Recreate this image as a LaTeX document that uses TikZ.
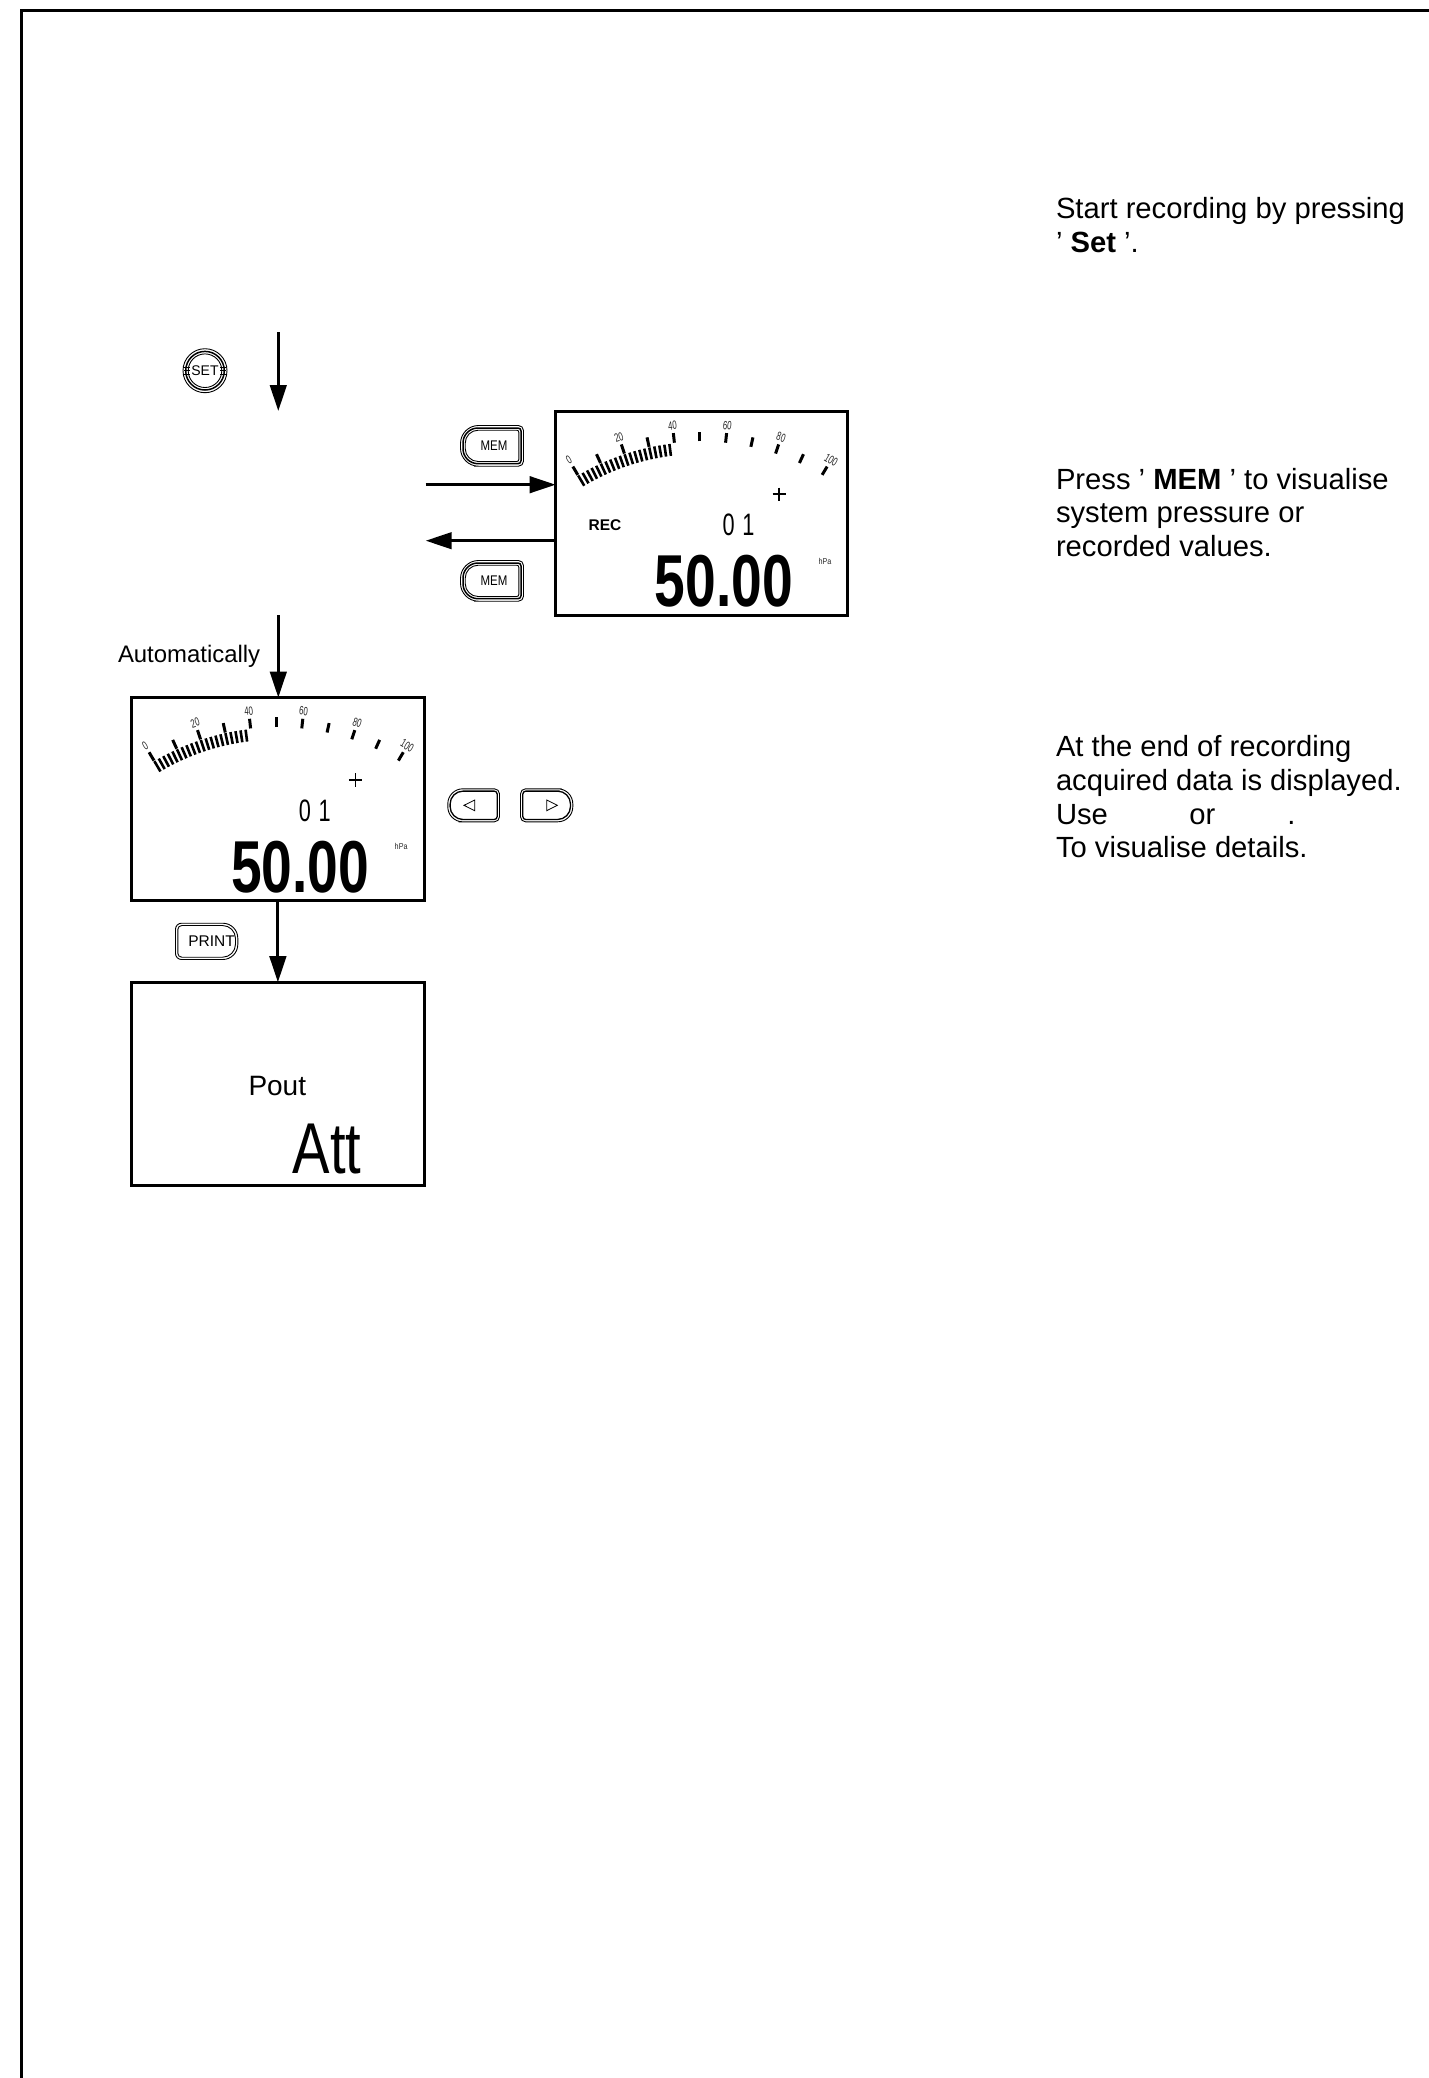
\documentclass[tikz,border=0pt]{standalone}
\usepackage{fontspec}
\setmainfont{Liberation Sans}
\usetikzlibrary{arrows.meta}
\tikzset{
  lbl/.style={inner sep=0pt,outer sep=0pt,anchor=base west,font=\fontsize{29.2}{33.6}\selectfont},
  flow/.style={line width=3pt,-{Triangle[length=26pt,width=16.5pt]},shorten >=0pt},
  lcdbox/.style={draw,line width=3pt,minimum width=292.3pt,minimum height=203.2pt,inner sep=0pt,outer sep=0pt},
  tiny/.style={inner sep=0pt,outer sep=0pt,anchor=center,font=\fontsize{12}{12}\selectfont,text=black!85},
  seg/.style={inner sep=0pt,outer sep=0pt,anchor=base}
}
\newcommand\btnpath[7]{% inset, x1,y1,x2,y2,RL,RR
  (#4/2+#2/2,#3+#1) [rounded corners=#6pt] -- (#2+#1,#3+#1) -- (#2+#1,#5-#1) -- (#4/2+#2/2,#5-#1)
  [rounded corners=#7pt] -- (#4-#1,#5-#1) -- (#4-#1,#3+#1) -- cycle}
\newcommand\lcdface[2]{%
  \foreach \v in {0,2,...,38} {
    \pgfmathsetmacro\a{(\v-50)*0.614}
    \draw[line width=2.6pt] ({480+680*sin(\a)},{842-680*cos(\a)}) -- ({480+716*sin(\a)},{842-716*cos(\a)});
  }
  \foreach \v in {0,10,...,100} {
    \pgfmathsetmacro\a{(\v-50)*0.614}
    \draw[line width=3pt] ({480+718*sin(\a)},{842-718*cos(\a)}) -- ({480+747*sin(\a)},{842-747*cos(\a)});
  }
  \foreach \v in {0,20,...,100} {
    \pgfmathsetmacro\a{(\v-50)*0.614}
    \pgfmathsetmacro\r{-\a}
    \node[tiny,rotate=\r] (#1g\v) at ({480+770*sin(\a)},{842-770*cos(\a)}) {\scalebox{0.65}[1]{\v}};
  }
  \draw[line width=1.7pt] (698,283) -- (738,283) (718,263) -- (718,303);
  \node[seg] (#1idx) at (596,407) {\fontsize{31}{31}\selectfont\scalebox{0.7}[1]{0\kern11pt 1}};
  \node[seg] (#1val) at (552,620) {\fontsize{73.6}{74}\selectfont\bfseries\scalebox{0.75}[1]{50.00}};
  \node[tiny,font=\fontsize{8.5}{9}\selectfont] (#1unit) at (855,483) {\scalebox{0.85}[1]{hPa}};
}
\begin{document}
\begin{tikzpicture}[x=1pt,y=-1pt]
\useasboundingbox (0,0) rectangle (1429,2078);
\fill[white] (0,0) rectangle (1429,2078);
% frame
\draw[line width=3pt] (21,2078) -- (21,10.5) -- (1429,10.5);

% LCD boxes
\node[lcdbox] (lcdA) at (701.75,513.5) {};
\node[lcdbox] (lcdB) at (277.9,799.2) {};
\node[lcdbox] (lcdC) at (277.9,1083.8) {};

\begin{scope}[shift={(540,400)},x=0.3333pt,y=-0.3333pt]
  \lcdface{a}{}
  \node[inner sep=0pt,font=\fontsize{15.5}{16}\selectfont\bfseries] (arec) at (195,377) {REC};
\end{scope}
\begin{scope}[shift={(116.2,685.7)},x=0.3333pt,y=-0.3333pt]
  \lcdface{b}{}
\end{scope}

\node[seg,font=\fontsize{28}{28}\selectfont] (pout) at (277.3,1095) {Pout};
\node[seg,font=\fontsize{72}{72}\selectfont] (att) at (327,1173) {\scalebox{0.78}[1]{Att}};

% connectors
\coordinate (s1) at (278.3,332);
\coordinate (e1) at (278.3,411);
\draw[flow] (s1) -- (e1);
\coordinate (s2) at (425.7,484.7);
\draw[flow] (s2) -- (s2 -| lcdA.west);
\coordinate (e3) at (425.7,540.7);
\draw[flow] (e3 -| lcdA.west) -- (e3);
\coordinate (s4) at (278.3,615);
\draw[flow] (s4) -- (s4 |- lcdB.north);
\draw[flow] (lcdB.south) -- (lcdC.north);

% buttons
\draw[line width=0.9pt] (205,370.7) circle (22);
\draw[line width=1.5pt] (205,370.7) circle (19.3);
\draw[line width=0.9pt] (205,370.7) circle (16.8);
\draw[line width=0.7pt] (184,367.5) -- (190,367.5) (184,370.7) -- (190,370.7) (184,374) -- (190,374)
                        (220,367.5) -- (226,367.5) (220,370.7) -- (226,370.7) (220,374) -- (226,374);
\node[inner sep=0pt,font=\fontsize{14}{14}\selectfont] (setk) at (205,371) {SET};

\foreach \yy/\nm in {425/memA,560/memB} {
  \pgfmathsetmacro\ya{\yy+41.7}
  \draw[line width=0.9pt] \btnpath{0.5}{460}{\yy}{524}{\ya}{18}{5};
  \draw[line width=1.5pt] \btnpath{3}{460}{\yy}{524}{\ya}{15}{3};
  \draw[line width=0.9pt] \btnpath{5.2}{460}{\yy}{524}{\ya}{13}{2};
  \pgfmathsetmacro\yc{\yy+20.8}
  \node[inner sep=0pt,font=\fontsize{14}{14}\selectfont] (\nm) at (494,\yc) {\scalebox{0.82}[1]{MEM}};
}

\draw[line width=0.9pt] \btnpath{0.5}{447.3}{788.3}{500}{822.3}{15}{5};
\draw[line width=1.3pt] \btnpath{2.8}{447.3}{788.3}{500}{822.3}{13}{3};
\draw[line width=0.8pt] (464,805.3) -- (474.7,800) -- (474.7,810.7) -- cycle;
\draw[line width=0.9pt] \btnpath{0.5}{520}{788.3}{573.3}{822.3}{5}{15};
\draw[line width=1.3pt] \btnpath{2.8}{520}{788.3}{573.3}{822.3}{3}{13};
\draw[line width=0.8pt] (546.7,800) -- (546.7,810.7) -- (557.3,805.3) -- cycle;

\draw[line width=0.9pt] \btnpath{0.5}{175}{922.7}{238.3}{960}{6}{15};
\draw[line width=0.9pt] \btnpath{2.8}{175}{922.7}{238.3}{960}{4}{13};
\node[inner sep=0pt,font=\fontsize{15.5}{16}\selectfont] (print) at (211.5,941.3) {PRINT};

% texts
\node[lbl,font=\fontsize{23.9}{27}\selectfont] (auto) at (118,662) {Automatically};

\node[lbl] (t1) at (1056,218) {Start recording by pressing};
\node[lbl] (t2) at (1056,252.5) {’ \textbf{Set} ’.};
\node[lbl] (t3) at (1056,489) {Press ’ \textbf{MEM} ’ to visualise};
\node[lbl] (t4) at (1056,522.5) {system pressure or};
\node[lbl] (t5) at (1056,556) {recorded values.};
\node[lbl] (t6) at (1056,756.7) {At the end of recording};
\node[lbl] (t7) at (1056,790.3) {acquired data is displayed.};
\node[lbl] (t8) at (1056,824) {Use\hspace{81.5pt}or\hspace{72pt}.};
\node[lbl] (t9) at (1056,857.5) {To visualise details.};
\end{tikzpicture}
\end{document}
